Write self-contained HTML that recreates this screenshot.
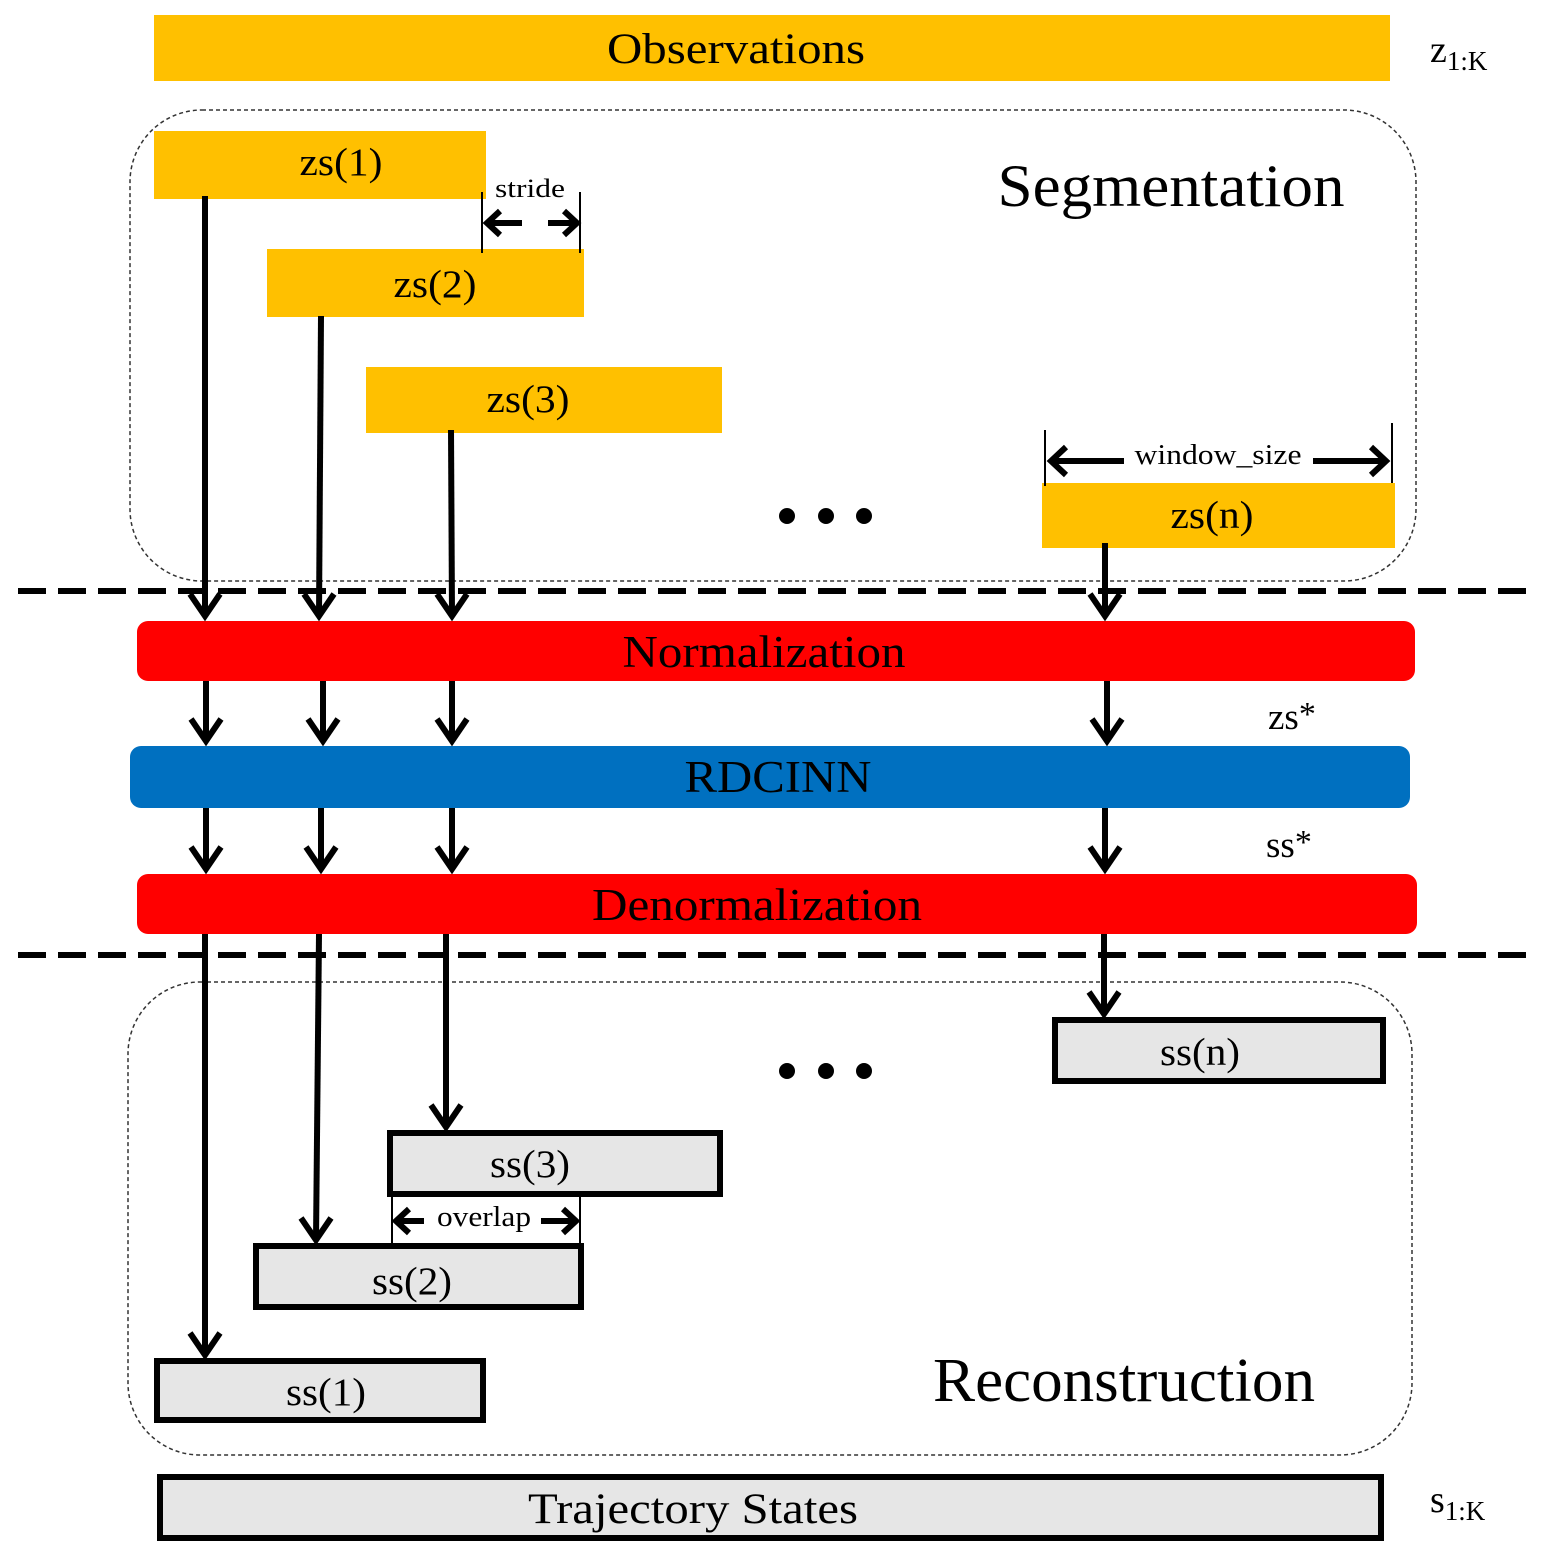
<!DOCTYPE html>
<html><head><meta charset="utf-8"><style>
html,body{margin:0;padding:0;background:#fff;}
svg{display:block;}
text{font-family:"Liberation Serif",serif;fill:#000;}
</style></head><body>
<svg width="1546" height="1564" viewBox="0 0 1546 1564" xmlns="http://www.w3.org/2000/svg">
<rect x="154" y="15" width="1236" height="66" fill="#FFC000"/>
<text x="736" y="63" font-size="43" text-anchor="middle" textLength="258" lengthAdjust="spacingAndGlyphs">Observations</text>
<text x="1430" y="62" font-size="38">z<tspan font-size="27" dy="8">1:K</tspan></text>

<rect x="130" y="110" width="1286" height="471" rx="72" fill="none" stroke="#333" stroke-width="1.5" stroke-dasharray="4,3"/>
<text x="1171" y="206" font-size="60" text-anchor="middle" textLength="347" lengthAdjust="spacingAndGlyphs">Segmentation</text>

<rect x="154" y="131" width="332" height="68" fill="#FFC000"/>
<text x="341" y="175" font-size="39" text-anchor="middle" textLength="83" lengthAdjust="spacingAndGlyphs">zs(1)</text>
<rect x="267" y="249" width="317" height="68" fill="#FFC000"/>
<text x="435" y="297" font-size="39" text-anchor="middle" textLength="83" lengthAdjust="spacingAndGlyphs">zs(2)</text>
<rect x="366" y="367" width="356" height="66" fill="#FFC000"/>
<text x="528" y="412" font-size="39" text-anchor="middle" textLength="83" lengthAdjust="spacingAndGlyphs">zs(3)</text>
<rect x="1042" y="483" width="353" height="65" fill="#FFC000"/>
<text x="1212" y="528" font-size="39" text-anchor="middle" textLength="83" lengthAdjust="spacingAndGlyphs">zs(n)</text>

<g stroke="#000" fill="none">
<line x1="482" y1="192" x2="482" y2="253" stroke-width="2"/>
<line x1="580" y1="192" x2="580" y2="253" stroke-width="2"/>
<line x1="486" y1="223" x2="522" y2="223" stroke-width="6"/>
<polyline points="500,211 487,223 500,235" stroke-width="6"/>
<line x1="548" y1="223" x2="577" y2="223" stroke-width="6"/>
<polyline points="564,211 577,223 564,235" stroke-width="6"/>
</g>
<text x="530" y="197" font-size="26" text-anchor="middle" textLength="70" lengthAdjust="spacingAndGlyphs">stride</text>

<g stroke="#000" fill="none">
<line x1="1045" y1="430" x2="1045" y2="486" stroke-width="2"/>
<line x1="1392" y1="423" x2="1392" y2="483" stroke-width="2"/>
<line x1="1050" y1="461" x2="1124" y2="461" stroke-width="6"/>
<polyline points="1066,447 1051,461 1066,475" stroke-width="6"/>
<line x1="1313" y1="461" x2="1387" y2="461" stroke-width="6"/>
<polyline points="1371,447 1386,461 1371,475" stroke-width="6"/>
</g>
<text x="1218" y="464" font-size="28" text-anchor="middle" textLength="167" lengthAdjust="spacingAndGlyphs">window_size</text>

<circle cx="787" cy="516" r="8"/><circle cx="826" cy="516" r="8"/><circle cx="864" cy="516" r="8"/>
<circle cx="787" cy="1071" r="8"/><circle cx="826" cy="1071" r="8"/><circle cx="864" cy="1071" r="8"/>

<line x1="18" y1="591" x2="1530" y2="591" stroke="#000" stroke-width="6" stroke-dasharray="28,12"/>
<line x1="18" y1="955" x2="1530" y2="955" stroke="#000" stroke-width="6" stroke-dasharray="28,12"/>

<rect x="137" y="621" width="1278" height="60" rx="11" fill="#FF0000"/>
<text x="764" y="667" font-size="45" text-anchor="middle" textLength="283" lengthAdjust="spacingAndGlyphs">Normalization</text>
<rect x="130" y="746" width="1280" height="62" rx="11" fill="#0070C0"/>
<text x="778" y="792" font-size="45" text-anchor="middle" textLength="187" lengthAdjust="spacingAndGlyphs">RDCINN</text>
<rect x="137" y="874" width="1280" height="60" rx="11" fill="#FF0000"/>
<text x="757" y="920" font-size="45" text-anchor="middle" textLength="330" lengthAdjust="spacingAndGlyphs">Denormalization</text>
<text x="1268" y="729" font-size="37">zs<tspan font-size="34" dy="-4">*</tspan></text>
<text x="1266" y="857" font-size="37">ss<tspan font-size="34" dy="-4">*</tspan></text>

<rect x="128" y="982" width="1284" height="473" rx="72" fill="none" stroke="#333" stroke-width="1.5" stroke-dasharray="4,3"/>
<text x="1124" y="1401" font-size="62" text-anchor="middle" textLength="382" lengthAdjust="spacingAndGlyphs">Reconstruction</text>

<g fill="#E6E6E6" stroke="#000" stroke-width="6">
<rect x="1055" y="1020" width="328" height="61"/>
<rect x="390" y="1133" width="330" height="61"/>
<rect x="256" y="1246" width="325" height="61"/>
<rect x="157" y="1361" width="326" height="59"/>
<rect x="160" y="1477" width="1221" height="61"/>
</g>
<text x="1200" y="1065" font-size="39" text-anchor="middle" textLength="80" lengthAdjust="spacingAndGlyphs">ss(n)</text>
<text x="530" y="1177" font-size="39" text-anchor="middle" textLength="80" lengthAdjust="spacingAndGlyphs">ss(3)</text>
<text x="412" y="1294" font-size="39" text-anchor="middle" textLength="80" lengthAdjust="spacingAndGlyphs">ss(2)</text>
<text x="326" y="1405" font-size="39" text-anchor="middle" textLength="80" lengthAdjust="spacingAndGlyphs">ss(1)</text>
<text x="693" y="1523" font-size="43" text-anchor="middle" textLength="330" lengthAdjust="spacingAndGlyphs">Trajectory States</text>
<text x="1430" y="1512" font-size="38">s<tspan font-size="27" dy="8">1:K</tspan></text>

<g stroke="#000" fill="none">
<line x1="392" y1="1194" x2="392" y2="1244" stroke-width="2"/>
<line x1="580" y1="1196" x2="580" y2="1244" stroke-width="2"/>
<line x1="396" y1="1221" x2="424" y2="1221" stroke-width="6"/>
<polyline points="409,1209 396,1221 409,1233" stroke-width="6"/>
<line x1="541" y1="1221" x2="576" y2="1221" stroke-width="6"/>
<polyline points="563,1209 576,1221 563,1233" stroke-width="6"/>
</g>
<text x="484" y="1226" font-size="28" text-anchor="middle" textLength="94" lengthAdjust="spacingAndGlyphs">overlap</text>

<g stroke="#000" fill="none" stroke-width="6">
<line x1="205" y1="196" x2="205" y2="616"/><polyline points="190,594 205,616 220,594"/>
<line x1="321" y1="316" x2="319" y2="616"/><polyline points="304,594 319,616 334,594"/>
<line x1="451" y1="430" x2="452" y2="616"/><polyline points="437,594 452,616 467,594"/>
<line x1="1105" y1="543" x2="1105" y2="616"/><polyline points="1090,594 1105,616 1120,594"/>

<line x1="206" y1="681" x2="206" y2="741"/><polyline points="191,719 206,741 221,719"/>
<line x1="323" y1="681" x2="323" y2="741"/><polyline points="308,719 323,741 338,719"/>
<line x1="452" y1="681" x2="452" y2="741"/><polyline points="437,719 452,741 467,719"/>
<line x1="1107" y1="681" x2="1107" y2="741"/><polyline points="1092,719 1107,741 1122,719"/>

<line x1="206" y1="808" x2="206" y2="869"/><polyline points="191,847 206,869 221,847"/>
<line x1="321" y1="808" x2="321" y2="869"/><polyline points="306,847 321,869 336,847"/>
<line x1="452" y1="808" x2="452" y2="869"/><polyline points="437,847 452,869 467,847"/>
<line x1="1105" y1="808" x2="1105" y2="869"/><polyline points="1090,847 1105,869 1120,847"/>

<line x1="205" y1="934" x2="205" y2="1355"/><polyline points="190,1333 205,1355 220,1333"/>
<line x1="319" y1="934" x2="316" y2="1240"/><polyline points="301,1218 316,1240 331,1218"/>
<line x1="446" y1="934" x2="446" y2="1127"/><polyline points="431,1105 446,1127 461,1105"/>
<line x1="1104" y1="934" x2="1104" y2="1014"/><polyline points="1089,992 1104,1014 1119,992"/>
</g>
</svg>
</body></html>
